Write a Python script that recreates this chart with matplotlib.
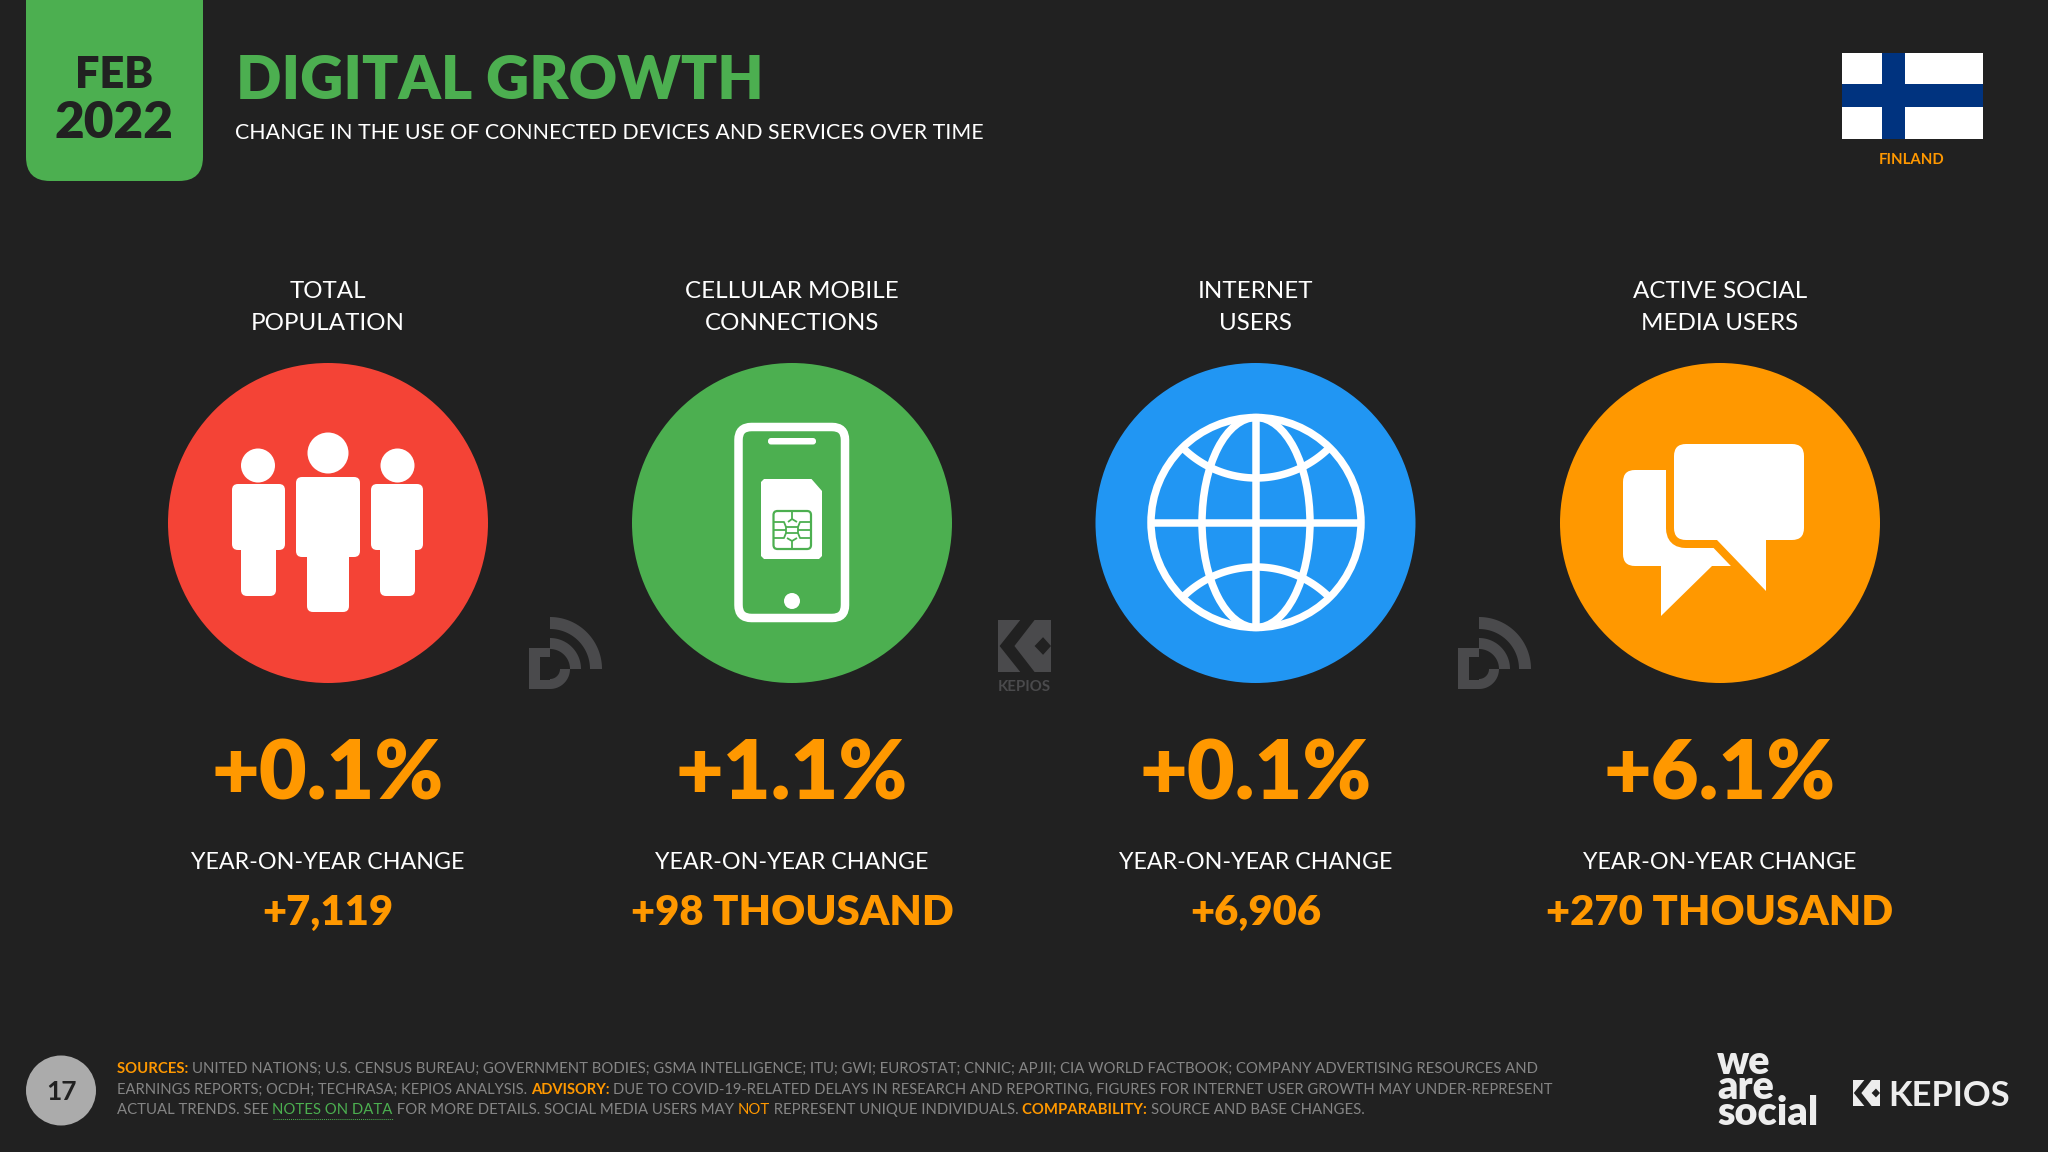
import numpy as np
import matplotlib
matplotlib.use("Agg")
import matplotlib.pyplot as plt
from matplotlib.patches import Circle, Ellipse, FancyBboxPatch, Polygon, Rectangle
from matplotlib.path import Path
from matplotlib.patches import PathPatch

# ---------- chart content ----------
headings = [["TOTAL", "POPULATION"], ["CELLULAR MOBILE", "CONNECTIONS"],
            ["INTERNET", "USERS"], ["ACTIVE SOCIAL", "MEDIA USERS"]]
pct_change = ["+0.1%", "+1.1%", "+0.1%", "+6.1%"]
yoy_label = "YEAR-ON-YEAR CHANGE"
abs_change = ["+7,119", "+98 THOUSAND", "+6,906", "+270 THOUSAND"]
circle_colors = ["#F44336", "#4CAF50", "#2196F3", "#FF9800"]
title = "DIGITAL GROWTH"
subtitle = "CHANGE IN THE USE OF CONNECTED DEVICES AND SERVICES OVER TIME"
date_lines = ["FEB", "2022"]
country = "FINLAND"
page = "17"

BG = "#212121"; ORANGE = "#FF9800"; GREEN = "#4CAF50"; GREY = "#858585"; WM = "#4A4A4C"
FLAG_BLUE = "#00337F"
footer = [
    [("SOURCES: ", ORANGE, "bold"),
     ("UNITED NATIONS; U.S. CENSUS BUREAU; GOVERNMENT BODIES; GSMA INTELLIGENCE; ITU; GWI; EUROSTAT; CNNIC; APJII; CIA WORLD FACTBOOK; COMPANY ADVERTISING RESOURCES AND", GREY, "normal")],
    [("EARNINGS REPORTS; OCDH; TECHRASA; KEPIOS ANALYSIS. ", GREY, "normal"), ("ADVISORY: ", ORANGE, "bold"),
     ("DUE TO COVID-19-RELATED DELAYS IN RESEARCH AND REPORTING, FIGURES FOR INTERNET USER GROWTH MAY UNDER-REPRESENT", GREY, "normal")],
    [("ACTUAL TRENDS. SEE ", GREY, "normal"), ("NOTES ON DATA", GREEN, "normal"), (" FOR MORE DETAILS. SOCIAL MEDIA USERS MAY ", GREY, "normal"),
     ("NOT", ORANGE, "normal"), (" REPRESENT UNIQUE INDIVIDUALS. ", GREY, "normal"), ("COMPARABILITY: ", ORANGE, "bold"),
     ("SOURCE AND BASE CHANGES.", GREY, "normal")],
]

plt.rcParams["font.family"] = ["Lato", "DejaVu Sans"]
fig = plt.figure(figsize=(20.48, 11.52), dpi=100, facecolor=BG)
ax = fig.add_axes([0, 0, 1, 1])
ax.set_xlim(0, 2048); ax.set_ylim(1152, 0); ax.axis("off"); ax.set_facecolor(BG)
renderer = fig.canvas.get_renderer()

def width_of(s, size, weight="normal"):
    t = ax.text(0, 0, s + ".", fontsize=size, fontweight=weight)
    d = ax.text(0, 0, ".", fontsize=size, fontweight=weight)
    w = t.get_window_extent(renderer).width - d.get_window_extent(renderer).width
    t.remove(); d.remove()
    return w

def size_for(s, target, weight="normal"):
    return 40 * target / width_of(s, 40, weight)

def T(x, y, s, size, color="white", weight="normal", ha="center"):
    return ax.text(x, y, s, fontsize=size, color=color, fontweight=weight, ha=ha, va="baseline")

def rrect(x0, y0, x1, y1, r, color, z=2, ec="none", lw=0):
    p = FancyBboxPatch((x0, y0), x1 - x0, y1 - y0, boxstyle=f"round,pad=0,rounding_size={r}",
                       fc=color, ec=ec, lw=lw, zorder=z)
    ax.add_patch(p); return p

def ring(cx, cy, r0, r1, a0, a1, color, z=2):
    a = np.radians(np.linspace(a0, a1, 60))
    outer = np.c_[cx + r1 * np.cos(a), cy + r1 * np.sin(a)]
    inner = np.c_[cx + r0 * np.cos(a[::-1]), cy + r0 * np.sin(a[::-1])]
    ax.add_patch(Polygon(np.r_[outer, inner], fc=color, ec="none", zorder=z))

px = 0.72  # points per pixel

# ---------- header ----------
rrect(26, -40, 203, 181, 24, GREEN)
T(114.5, 88, date_lines[0], size_for(date_lines[0], 78, "heavy"), BG, "heavy")
T(114.5, 138, date_lines[1], size_for(date_lines[1], 119, "heavy"), BG, "heavy")
T(236, 99, title, size_for(title, 527, "heavy"), GREEN, "heavy", "left")
T(235, 139, subtitle, size_for(subtitle, 749, "normal"), "white", "normal", "left")

# flag
ax.add_patch(Rectangle((1842, 53), 141, 86, fc="white", ec="none", zorder=2))
ax.add_patch(Rectangle((1882, 53), 23, 86, fc=FLAG_BLUE, ec="none", zorder=3))
ax.add_patch(Rectangle((1842, 84), 141, 23, fc=FLAG_BLUE, ec="none", zorder=3))
T(1912, 164, country, size_for(country, 65, "bold"), ORANGE, "bold")

# ---------- columns ----------
centers = [328, 792, 1255.5, 1720]
cy = 523
head_size = size_for("CELLULAR MOBILE", 213, "normal")
pct_size = size_for("+0.1%", 232, "heavy")
yoy_size = size_for(yoy_label, 273, "normal")
amt_size = size_for("+98 THOUSAND", 322, "heavy")
for cx, h, col, p, a in zip(centers, headings, circle_colors, pct_change, abs_change):
    T(cx, 298, h[0], head_size, "white", "normal")
    T(cx, 330, h[1], head_size, "white", "normal")
    ax.add_patch(Circle((cx, cy), 160, fc=col, ec="none", zorder=1))
    T(cx, 799, p, pct_size, ORANGE, "heavy")
    T(cx, 869, yoy_label, yoy_size, "white", "normal")
    T(cx, 925, a, amt_size, ORANGE, "heavy")

# ---------- people icon ----------
def person(cx, hy, hr, bx0, bx1, by0, by1, lx0, lx1, ly1):
    ax.add_patch(Circle((cx, hy), hr, fc="white", ec="none", zorder=3))
    rrect(bx0, by0, bx1, by1, 6, "white", 3)
    rrect(lx0, by1 - 14, lx1, ly1, 6, "white", 3)
person(328, 453, 20.5, 296, 360, 477, 557, 307, 349, 612)
person(258, 465.5, 17, 232, 285, 484, 550, 241, 276, 596)
person(397.5, 465.5, 17, 371, 423, 484, 550, 380, 415, 596)

# ---------- phone + SIM icon ----------
rrect(738.5, 427, 845, 618, 13, "none", 3, "white", 8.5 * px)
rrect(768, 438, 816, 444.5, 3, "white", 3)
ax.add_patch(Circle((792, 601), 8, fc="white", ec="none", zorder=3))
sim = [(764, 479), (811.5, 479), (822, 491), (822, 556), (819, 559), (764, 559), (761, 556), (761, 482)]
ax.add_patch(Polygon(sim, fc="white", ec="none", zorder=3))
rrect(773.5, 511, 811, 549, 4, "none", 4, GREEN, 1.6)
chip_segments = [[(773.5, 522), (784, 522), (786, 527), (786, 533), (784, 538), (773.5, 538)],
                 [(811, 522), (800, 522), (798, 527), (798, 533), (800, 538), (811, 538)],
                 [(773.5, 530), (786, 530)], [(798, 530), (811, 530)],
                 [(792, 511), (792, 519), (788, 522)], [(792, 519), (797, 522)],
                 [(792, 549), (792, 541), (787, 538)], [(792, 541), (797, 538)],
                 [(786, 527), (798, 527)], [(786, 533), (798, 533)]]
for seg in chip_segments:
    ax.plot(*zip(*seg), color=GREEN, lw=1.3, zorder=5, solid_capstyle="butt")

# ---------- globe icon ----------
gx, gy, gr, gw = 1256, 522.5, 105, 7.5 * px
ax.add_patch(Ellipse((gx, gy), 2 * gr, 2 * gr, fc="none", ec="white", lw=gw, zorder=3))
ax.add_patch(Ellipse((gx, gy), 108, 2 * gr, fc="none", ec="white", lw=gw, zorder=3))
ax.plot([gx, gx], [gy - gr, gy + gr], color="white", lw=gw, zorder=3, solid_capstyle="butt")
ax.plot([gx - gr, gx + gr], [gy, gy], color="white", lw=gw, zorder=3, solid_capstyle="butt")
ang = np.radians(np.linspace(47, 133, 50))
R = 104
ax.plot(gx + R * np.cos(ang), gy - 148.5 + R * np.sin(ang), color="white", lw=gw, zorder=3)
ax.plot(gx + R * np.cos(ang), gy + 148.5 - R * np.sin(ang), color="white", lw=gw, zorder=3)

# ---------- speech bubbles icon ----------
rrect(1623, 470, 1700, 566, 12, "white", 3)
ax.add_patch(Polygon([(1661, 560), (1661, 616), (1712, 566), (1731, 566), (1731, 540), (1661, 540)],
                     fc="white", ec="none", zorder=3))
b0, b1, t0, t1, r = 1674, 1804, 444, 540, 12
verts = [(b0 + r, t0), (b1 - r, t0), (b1, t0), (b1, t0 + r), (b1, t1 - r), (b1, t1), (b1 - r, t1),
         (1766, t1), (1766, 591), (1717, t1), (b0 + r, t1), (b0, t1), (b0, t1 - r), (b0, t0 + r), (b0, t0), (b0 + r, t0)]
codes = [Path.MOVETO, Path.LINETO, Path.CURVE3, Path.CURVE3, Path.LINETO, Path.CURVE3, Path.CURVE3,
         Path.LINETO, Path.LINETO, Path.LINETO, Path.LINETO, Path.CURVE3, Path.CURVE3, Path.LINETO, Path.CURVE3, Path.CURVE3]
ax.add_patch(PathPatch(Path(verts, codes), fc="white", ec=ORANGE, lw=16 * px, zorder=4, joinstyle="miter"))
ax.add_patch(PathPatch(Path(verts, codes), fc="white", ec="none", zorder=5))

# ---------- watermarks ----------
def signal(dx):
    ring(550 + dx, 669, 40, 52, -90, 0, WM)
    ring(550 + dx, 669, 20, 31, -90, 0, WM)
    ax.add_patch(Rectangle((529 + dx, 648), 11, 41, fc=WM, ec="none", zorder=2))
    ax.add_patch(Rectangle((529 + dx, 648), 21, 9, fc=WM, ec="none", zorder=2))
    ax.add_patch(Rectangle((529 + dx, 680), 21, 9, fc=WM, ec="none", zorder=2))
    ring(550 + dx, 669, 10, 20, 0, 90, WM)
signal(0); signal(929)

def kepios_mark(x0, y0, w, h, fg, bg):
    ax.add_patch(Rectangle((x0, y0), w, h, fc=fg, ec="none", zorder=2))
    chev = [(.42, 0), (.69, 0), (.31, .5), (.69, 1), (.42, 1), (.03, .5)]
    dia = [(.69, .5), (.85, .33), (1.0, .5), (.85, .67)]
    for shape in (chev, dia):
        ax.add_patch(Polygon([(x0 + a * w, y0 + b * h) for a, b in shape], fc=bg, ec="none", zorder=3))
kepios_mark(998, 620, 53, 52, WM, BG)
T(1024.5, 691, "KEPIOS", size_for("KEPIOS", 53, "bold"), WM, "bold")

# ---------- footer ----------
ax.add_patch(Circle((61, 1090.5), 35, fc="#ABABAB", ec="none", zorder=2))
T(61, 1100, page, 19, BG, "bold")

line_ends = [1541, 1552, 1360]
baselines = [1073, 1093.5, 1114]
for line, base, end in zip(footer, baselines, line_ends):
    x = 117
    foot_size = 40 * (end - x) / sum(width_of(s, 40, w) for s, c, w in line)
    for s, c, w in line:
        T(x, base, s, foot_size, c, w, "left")
        adv = width_of(s, foot_size, w)
        if s == "NOTES ON DATA":
            ax.plot([x, x + adv], [base + 5, base + 5], color=GREEN, lw=0.7, ls=(0, (1, 1)), zorder=2)
        x += adv

# ---------- brand logos ----------
LOGO = "#EDEDED"
soc = size_for("social", 101, "heavy")
ax.text(1717, 1125, "we\nare\nsocial", fontsize=soc, color=LOGO, fontweight="heavy", ha="left",
        va="baseline", linespacing=0.62, multialignment="left")
kepios_mark(1853, 1080, 27, 26, LOGO, BG)
T(1888, 1106, "KEPIOS", size_for("KEPIOS", 122, "bold"), LOGO, "bold", "left")

fig.savefig("out.png", dpi=100, facecolor=BG)
